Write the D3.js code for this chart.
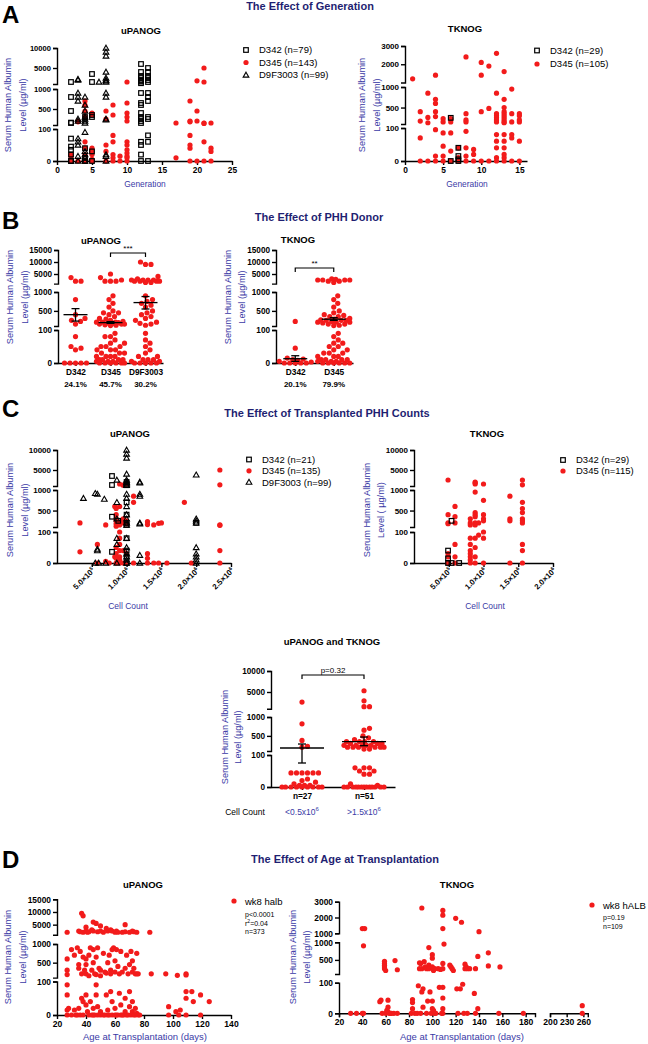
<!DOCTYPE html>
<html>
<head>
<meta charset="utf-8">
<script src="https://cdn.jsdelivr.net/npm/d3@7"></script>
<style>body{margin:0;background:#fff}</style>
</head>
<body>
<script>
'use strict';

// ---------------- data ----------------
const genLegendUp = ['D342 (n=79)', 'D345 (n=143)', 'D9F3003 (n=99)'];
const genLegendTk = ['D342 (n=29)', 'D345 (n=105)'];
const cellLegendUp = ['D342 (n=21)', 'D345 (n=135)', 'D9F3003 (n=99)'];
const cellLegendTk = ['D342 (n=29)', 'D345 (n=115)'];
const genTicksUp = [0, 5, 10, 15, 20, 25];
const genTicksTk = [0, 5, 10, 15];
const cellTicksUp = [5e5, 1e6, 1.5e6, 2e6, 2.5e6];
const cellTicksTk = [5e5, 1e6, 1.5e6, 2e6];
const ageTicksUp = [20, 40, 60, 80, 100, 120, 140];
const ageTicksTkA = [20, 40, 60, 80, 100, 120, 140, 160, 180];
const ageTicksTkB = [200, 230, 260];

// A: generation vs albumin  [generation, ug/ml]
const genUpD342 = [[2,1500],[2,800],[2,450],[2,160],[2,150],[2,70],[2,45],[2,35],[2,20],[2,0],[2,0],
  [4,300],[4,40],[4,10],[4,0],[5,3500],[5,1500],[5,350],[5,300],[5,30],[5,0],
  [12,6000],[12,4000],[12,3000],[12,2500],[12,2000],[12,1800],[12,1600],[12,1200],[12,900],[12,650],[12,600],
  [12,400],[12,300],[12,250],[12,200],[12,150],[12,60],[12,50],[12,20],[12,0],
  [13,5000],[13,4000],[13,3000],[13,2500],[13,2000],[13,1500],[13,900],[13,800],[13,700],[13,300],[13,250],
  [13,80],[13,60],[13,0]];
const genUpD345 = [[2,20],[2,15],[2,0],[3,200],[3,180],[3,0],[4,700],[4,600],[4,450],[4,300],[4,60],[4,40],
  [4,20],[4,0],[5,400],[5,350],[5,40],[5,30],[5,20],[5,5],[5,0],[7,450],[7,250],[7,50],[7,30],[7,0],
  [8,600],[8,350],[8,80],[8,60],[8,20],[8,10],[8,0],[9,15],[9,0],[10,1500],[10,650],[10,400],[10,300],
  [10,200],[10,60],[10,50],[10,35],[10,25],[10,15],[10,10],[10,0],[17,150],[17,10],[19,700],[19,200],
  [19,180],[19,80],[19,50],[19,40],[19,0],[20,1800],[20,450],[20,200],[20,0],[21,5000],[21,1500],[21,150],
  [21,140],[21,60],[21,0],[22,150],[22,40],[22,30],[22,0]];
const genUpD9 = [[3,2000],[3,2200],[3,900],[3,800],[3,700],[3,250],[3,200],[3,70],[3,60],[3,50],[3,15],[3,0],
  [4,800],[4,600],[4,450],[4,300],[4,250],[4,200],[4,150],[4,90],[4,30],[4,20],[4,10],[4,0],[6,1500],
  [7,10000],[7,9000],[7,8000],[7,4000],[7,2500],[7,2000],[7,1800],[7,1500],[7,900],[7,800],[7,250],[7,230],
  [7,20],[7,15],[7,0]];
const genTkD342 = [[6,250],[6,0],[7,40],[7,15],[7,5],[7,0]];
const genTkD345 = [[1,1200],[2,400],[2,170],[2,70],[2,0],[3,850],[3,260],[3,130],[3,0],[4,1400],[4,700],
  [4,600],[4,400],[4,280],[4,95],[4,15],[4,0],[5,230],[5,150],[5,85],[5,45],[5,15],[5,0],[6,230],[6,150],
  [6,85],[6,30],[6,0],[7,40],[7,10],[7,0],[8,2400],[8,350],[8,200],[8,150],[8,90],[8,40],[8,15],[8,0],
  [9,35],[9,20],[9,0],[10,2100],[10,1400],[10,400],[10,0],[11,1900],[11,480],[11,0],[12,2600],[12,850],
  [12,350],[12,300],[12,250],[12,200],[12,150],[12,80],[12,60],[12,40],[12,10],[12,0],[13,1600],[13,700],
  [13,500],[13,400],[13,350],[13,300],[13,250],[13,200],[13,150],[13,130],[13,80],[13,60],[13,40],[13,20],
  [13,10],[13,0],[14,950],[14,350],[14,150],[14,80],[14,70],[14,0],[15,350],[15,300],[15,200],[15,150],
  [15,60],[15,0]];

// B: donor columns
const donorsUp = ['D342', 'D345', 'D9F3003'];
const donorsTk = ['D342', 'D345'];
const donorPctUp = ['24.1%', '45.7%', '30.2%'];
const donorPctTk = ['20.1%', '79.9%'];
const donorUpValues = [
  [3500,2000,2000,800,400,300,250,220,150,80,50,45,40,0,0,0,0,0],
  [5000,3500,2500,2000,2000,2000,900,800,700,600,500,450,450,400,350,300,280,250,220,200,200,200,190,180,
   170,150,150,150,130,120,110,90,80,80,70,60,60,50,50,50,40,40,40,30,30,30,20,20,20,20,10,10,10,10,5,5,5,
   0,0,0,0,0,0],
  [10000,9000,9000,4000,3000,2500,2500,2500,2500,2000,2000,2000,2000,1500,1500,900,800,750,700,650,600,500,
   450,400,350,300,250,200,170,150,120,90,70,60,50,40,30,20,20,10,10,10,5,5,0,0,0,0,0]];
const donorUpMean = [400, 190, 720];
const donorUpLo = [230, 170, 550];
const donorUpHi = [560, 215, 880];
const donorTkValues = [
  [220,45,15,12,10,8,5,3,0,0,0,0,0],
  [3000,2800,2500,2500,2500,2500,2000,2000,1500,900,800,700,600,500,450,400,380,350,350,300,280,260,250,
   250,250,220,200,200,200,180,150,150,120,110,90,80,70,60,60,50,50,40,40,30,30,30,20,20,20,10,10,10,10,
   5,5,5,0,0,0,0,0,0]];
const donorTkMean = [13, 280];
const donorTkLo = [5, 250];
const donorTkHi = [22, 320];

// C: transplanted cell count  [cells, ug/ml]
const cellUpD342 = [[7.9e5,3500],[7.9e5,1250],[7.9e5,350],[7.9e5,36],[8.8e5,250],[1e6,2000],[1e6,1200],
  [1e6,700],[1e6,400],[1e6,200],[1e6,150],[1e6,80],[1e6,40],[1e6,20],[1e6,0],[2e6,200]];
const cellUpD345 = [[3.3e5,200],[3.3e5,36],[5.8e5,60],[5.8e5,0],[7e5,150],[7e5,5],[7.5e5,0],[8.3e5,600],
  [8.3e5,20],[8.5e5,550],[8.5e5,400],[8.5e5,300],[8.5e5,250],[8.5e5,180],[8.5e5,120],[8.5e5,50],[8.5e5,30],
  [8.5e5,15],[8.5e5,0],[9e5,1500],[9e5,600],[9e5,200],[9e5,150],[9e5,100],[9e5,80],[9e5,60],[9e5,40],
  [9e5,20],[9e5,10],[9e5,0],[9.5e5,1200],[9.5e5,300],[9.5e5,250],[9.5e5,200],[9.5e5,40],[9.5e5,0],
  [1e6,1500],[1e6,250],[1e6,180],[1e6,30],[1e6,0],[1.1e6,850],[1.1e6,700],[1.1e6,0],[1.3e6,230],[1.3e6,160],
  [1.3e6,30],[1.3e6,15],[1.3e6,0],[1.39e6,150],[1.39e6,0],[1.46e6,190],[1.46e6,0],[1.5e6,200],[1.58e6,0],
  [1.83e6,700],[1.93e6,0],[2.34e6,5000],[2.34e6,1300],[2.34e6,150],[2.34e6,140],[2.34e6,40],[2.34e6,0]];
const cellUpD9 = [[3.8e5,800],[5.5e5,920],[5.8e5,900],[6.8e5,780],[8.6e5,700],[8.6e5,2500],[8.6e5,300],
  [8.6e5,80],[8.6e5,60],[8.6e5,0],[1e6,10000],[1e6,9000],[1e6,8000],[1e6,4000],[1e6,2500],[1e6,2000],
  [1e6,1800],[1e6,1500],[1e6,1200],[1e6,900],[1e6,800],[1e6,600],[1e6,400],[1e6,300],[1e6,200],[1e6,150],
  [1e6,80],[1e6,50],[1e6,30],[1e6,20],[1e6,10],[1e6,0],[5.8e5,40],[5.8e5,45],[5.5e5,0],[6e5,0],[7e5,0],
  [1.19e6,2000],[1.19e6,1800],[1.19e6,900],[1.19e6,850],[1.19e6,200],[1.19e6,180],[1.19e6,25],[1.19e6,0],
  [2e6,3800],[2e6,300],[2e6,250],[2e6,200],[2e6,50],[2e6,30],[2e6,20],[2e6,10],[2e6,0]];
const cellTkD342 = [[4.9e5,40],[4.9e5,15],[4.9e5,0],[5.4e5,250],[5.4e5,0],[6.5e5,0]];
const cellTkD345 = [[4.9e5,2500],[4.9e5,400],[4.9e5,200],[4.9e5,180],[4.9e5,30],[4.9e5,20],[4.9e5,0],
  [5.9e5,600],[5.9e5,350],[5.9e5,200],[5.9e5,60],[5.9e5,20],[5.9e5,0],[8.1e5,300],[8.1e5,200],[8.1e5,150],
  [8.1e5,80],[8.1e5,60],[8.1e5,40],[8.1e5,30],[8.1e5,20],[8.1e5,10],[8.1e5,0],[8.8e5,2000],[8.8e5,1800],
  [8.8e5,1500],[8.8e5,950],[8.8e5,450],[8.8e5,400],[8.8e5,350],[8.8e5,200],[8.8e5,150],[8.8e5,80],
  [8.8e5,50],[8.8e5,20],[8.8e5,0],[9.3e5,200],[9.3e5,90],[1e6,1500],[1e6,750],[1e6,400],[1e6,300],
  [1e6,250],[1e6,100],[1e6,80],[1e6,0],[1.38e6,850],[1.38e6,300],[1.38e6,250],[1.38e6,0],[1.56e6,2500],
  [1.56e6,1300],[1.56e6,700],[1.56e6,550],[1.56e6,450],[1.56e6,300],[1.56e6,250],[1.56e6,200],[1.56e6,60],
  [1.56e6,40],[1.56e6,0]];

// C lower: pooled by cell count
const poolCats = ['n=27', 'n=51'];
const poolCountLabels = ['<0.5x10', '>1.5x10'];
const poolValues = [
  [2600,820,380,220,200,44,44,44,44,44,44,25,20,15,10,5,5,5,0,0,0,0,0,0,0,0,0],
  [5300,2900,1500,1500,700,650,500,450,400,350,350,350,350,300,300,300,250,250,250,250,250,200,200,200,
   200,200,200,150,150,60,60,60,50,50,40,40,10,5,0,0,0,0,0,0,0,0,0,0,0,0,0]];
const poolMean = [180, 346];
const poolLo = [75, 240];
const poolHi = [285, 470];

// D: age at transplantation  [days, ug/ml]
const ageUp = [[27,2000],[35,2500],[36,2200],[37,9500],[38,8500],[38,2000],[40,4000],[40,2500],[41,2000],
  [42,2200],[44,3000],[45,6000],[45,2500],[47,5500],[48,2200],[50,4500],[50,2500],[52,2000],[54,3500],
  [55,2500],[57,3000],[58,2500],[60,2000],[61,2500],[62,2000],[65,2000],[67,5000],[67,2200],[70,2000],
  [72,2500],[73,2200],[75,2000],[84,2000],
  [27,600],[27,300],[27,180],[30,850],[32,700],[34,900],[35,450],[35,350],[36,800],[37,200],[38,650],
  [39,300],[40,600],[40,450],[40,200],[42,700],[42,150],[43,900],[44,300],[45,850],[45,500],[46,200],
  [47,650],[47,180],[48,900],[49,350],[50,300],[50,150],[52,750],[53,250],[54,220],[55,500],[56,700],
  [57,300],[57,200],[58,850],[59,900],[60,550],[60,250],[61,850],[62,400],[63,200],[64,800],[65,250],
  [67,350],[68,700],[69,200],[70,450],[71,800],[72,550],[72,250],[73,350],[74,200],[75,750],[75,200],
  [76,200],[85,200],[95,200],[103,160],[109,200],[109,170],
  [27,90],[27,60],[27,15],[27,0],[28,20],[30,0],[32,15],[33,0],[34,0],[35,20],[36,0],[37,50],[38,40],
  [38,0],[40,60],[40,30],[41,10],[42,0],[43,40],[44,0],[45,20],[45,0],[46,0],[47,90],[47,60],[48,25],
  [48,0],[50,10],[50,0],[52,0],[53,0],[54,60],[55,15],[55,0],[56,0],[57,70],[58,40],[58,0],[60,20],
  [60,0],[61,0],[62,0],[63,65],[64,30],[64,0],[65,0],[66,0],[67,50],[67,10],[68,0],[69,0],[70,70],
  [70,25],[71,0],[72,40],[72,10],[73,0],[74,20],[74,0],[75,5],[76,0],[77,0],[97,25],[97,0],[102,10],
  [104,0],[105,15],[109,70],[109,50],[109,0],[113,70],[114,40],[119,60],[119,0],[125,40]];
const ageTk = [[30,0],[35,0],[40,0],[41,0],[40,1300],[42,1300],[41,900],[55,38],[56,43],[57,0],[59,460],
  [59,400],[59,350],[59,300],[59,250],[60,200],[60,0],[61,10],[62,43],[62,20],[62,5],[63,0],[64,0],[65,0],
  [67,0],[68,480],[70,220],[70,0],[82,0],[83,15],[83,35],[83,45],[85,0],[87,0],[88,90],[89,420],[89,250],
  [90,400],[90,0],[91,2600],[91,250],[91,70],[92,80],[92,20],[93,450],[94,300],[95,250],[95,0],[96,40],
  [97,850],[97,350],[97,250],[98,70],[99,0],[100,650],[100,550],[100,300],[100,40],[100,15],[101,250],
  [101,200],[101,10],[102,250],[102,0],[103,0],[105,250],[106,85],[107,230],[108,0],[109,2450],[109,2150],
  [109,1300],[109,400],[109,250],[109,85],[109,50],[109,15],[109,0],[110,950],[115,350],[116,300],
  [117,250],[118,200],[120,1950],[121,80],[122,0],[124,80],[125,1700],[126,95],[127,0],[128,380],[128,250],
  [129,300],[130,250],[130,0],[132,250],[136,65],[137,250],[137,0],[139,15],[139,600],[140,1100],
  [148,700],[148,330],[157,0],[158,300],[178,0],[258,25],[258,0]];

// ---------------- drawing ----------------
const FONT = "'Liberation Sans', Arial, Helvetica, sans-serif";
const RED = '#f21b1b';
const NAVY = '#1f1f72';
const BLUE = '#3a3aa6';

const svg = d3.select('body').append('svg')
  .attr('width', 648).attr('height', 1044)
  .style('font-family', FONT);

function txt(x, y, s, o = {}) {
  return svg.append('text').attr('x', x).attr('y', y).text(s)
    .attr('font-size', o.size || 9)
    .attr('font-weight', o.bold ? 'bold' : 'normal')
    .attr('fill', o.color || '#000')
    .attr('text-anchor', o.anchor || 'middle');
}

// piecewise (broken) y scale, one d3 linear scale per segment
function segY(segs) {
  segs.forEach(s => { s.sc = d3.scaleLinear().domain(s.d).range(s.r); });
  return v => (segs.find(s => v <= s.d[1]) || segs[segs.length - 1]).sc(v);
}

function styleAxis(g, fs) {
  g.selectAll('path,line').attr('stroke', '#000').attr('stroke-width', 1.4);
  g.selectAll('text').attr('font-size', fs).attr('font-weight', 'bold')
    .attr('font-family', FONT).attr('fill', '#000');
}

function yAxis(x, segs, fs) {
  segs.forEach(s => {
    const g = svg.append('g').attr('transform', `translate(${x},0)`)
      .call(d3.axisLeft(s.sc).tickValues(s.t).tickSize(4).tickSizeOuter(4)
        .tickPadding(2).tickFormat(d3.format('d')));
    styleAxis(g, fs);
  });
}

function yLabel(x1, x2, cy, second) {
  [[x1, 'Serum Human Albumin'], [x2, second || 'Level (µg/ml)']].forEach(([x, s]) => {
    svg.append('text').attr('transform', `translate(${x + 3.3},${cy}) rotate(-90)`)
      .attr('text-anchor', 'middle').attr('font-size', 9.2).attr('fill', BLUE).text(s);
  });
}

function sym(x, y, kind) {
  if (kind === 'circle') {
    svg.append('circle').attr('cx', x).attr('cy', y).attr('r', 2.6).attr('fill', RED);
  } else if (kind === 'square') {
    svg.append('rect').attr('x', x - 2.3).attr('y', y - 2.3).attr('width', 4.6).attr('height', 4.6)
      .attr('fill', 'none').attr('stroke', '#000').attr('stroke-width', 1.2);
  } else {
    svg.append('path').attr('d', d3.symbol(d3.symbolTriangle, 14)())
      .attr('transform', `translate(${x},${y + 0.5})`)
      .attr('fill', 'none').attr('stroke', '#000').attr('stroke-width', 1.1);
  }
}

function legend(x, y0, dy, labels, kinds, fs) {
  labels.forEach((l, i) => {
    sym(x, y0 + i * dy, kinds[i]);
    txt(x + 13, y0 + i * dy + 3.4, l, { size: fs || 9.5, anchor: 'start' });
  });
}

// beeswarm placement for column scatter
function swarm(vals, cx, ys, r, maxW) {
  const pts = vals.map(v => ({ v, y: ys(v) })).sort((a, b) => b.y - a.y);
  const placed = [];
  pts.forEach(p => {
    let best = null, bestD = -1;
    for (let k = 0; k <= maxW * 4; k++) {
      const off = (k % 2 ? 1 : -1) * Math.ceil(k / 2) * 0.5;
      let dmin = Infinity;
      placed.forEach(q => { dmin = Math.min(dmin, Math.hypot(q.x - cx - off, q.y - p.y)); });
      if (dmin >= 2 * r + 0.2) { best = off; break; }
      if (dmin > bestD) { bestD = dmin; best = off; }
    }
    p.x = cx + best;
    placed.push(p);
  });
  return placed;
}

function scatterPanel(o) {
  const ys = segY(o.segs);
  yAxis(o.x0, o.segs, o.fs);
  (o.xAxes || [{ sc: o.xs, ticks: o.xTicks }]).forEach(a => {
    const g = svg.append('g').attr('transform', `translate(0,${o.segs[0].r[0]})`)
      .call(d3.axisBottom(a.sc).tickValues(a.ticks).tickSize(4)
        .tickSizeOuter(o.xAxes ? 4 : 0).tickPadding(2).tickFormat(d3.format('d')));
    styleAxis(g, o.xfs || 8.4);
    if (o.cells) {
      g.selectAll('.tick text').each(function (d) {
        const e = Math.floor(Math.log10(d)), m = d / Math.pow(10, e);
        const t = d3.select(this).text(null).attr('text-anchor', 'end').attr('x', 0).attr('y', 0)
          .attr('dy', null).attr('font-size', 7.8).attr('transform', 'translate(3,8) rotate(-45)');
        t.append('tspan').text(m.toFixed(1) + '×10');
        t.append('tspan').attr('font-size', 5).attr('dy', -3).text(e);
      });
    }
  });
  o.series.forEach(s => s.data.forEach(([a, b]) => sym(o.xf(a), ys(b), s.kind)));
}

function columnPanel(o) {
  const ys = segY(o.segs);
  const xs = d3.scalePoint().domain(o.cats).range(o.xr).padding(0.5);
  yAxis(o.x0, o.segs, o.fs);
  const g = svg.append('g').attr('transform', `translate(0,${o.segs[0].r[0]})`)
    .call(d3.axisBottom(xs).tickSize(3).tickSizeOuter(0).tickPadding(3));
  styleAxis(g, 8.3);
  o.values.forEach((vals, i) => {
    swarm(vals, xs(o.cats[i]), ys, 2.6, o.maxW).forEach(p => sym(p.x, p.y, 'circle'));
  });
  o.cats.forEach((c, i) => {
    const cx = xs(c);
    const line = (x1, y1, x2, y2) => svg.append('line').attr('x1', x1).attr('y1', y1)
      .attr('x2', x2).attr('y2', y2).attr('stroke', '#000').attr('stroke-width', 1.3);
    line(cx - o.halfW, ys(o.mean[i]), cx + o.halfW, ys(o.mean[i]));
    line(cx, ys(o.lo[i]), cx, ys(o.hi[i]));
    line(cx - 4, ys(o.lo[i]), cx + 4, ys(o.lo[i]));
    line(cx - 4, ys(o.hi[i]), cx + 4, ys(o.hi[i]));
  });
  if (o.bracket) {
    const [a, b, y, label, bold] = o.bracket;
    const x1 = xs(o.cats[a]), x2 = xs(o.cats[b]);
    svg.append('path').attr('d', `M${x1},${y + 4}V${y}H${x2}V${y + 4}`)
      .attr('fill', 'none').attr('stroke', '#000').attr('stroke-width', 1.2);
    txt((x1 + x2) / 2, y - 2.5, label, { size: 8, bold });
  }
  return xs;
}

// ---- headings ----
[['A', 23], ['B', 229], ['C', 417], ['D', 868]].forEach(([l, y]) =>
  txt(2, y, l, { size: 24, bold: true, anchor: 'start' }));
txt(310, 10, 'The Effect of Generation', { size: 11, bold: true, color: NAVY });
txt(319, 221, 'The Effect of PHH Donor', { size: 11, bold: true, color: NAVY });
txt(327, 417, 'The Effect of Transplanted PHH Counts', { size: 11, bold: true, color: NAVY });
txt(345, 863, 'The Effect of Age at Transplantation', { size: 11, bold: true, color: NAVY });

// ---- A left ----
txt(141, 34, 'uPANOG', { size: 9.5, bold: true });
{
  const xs = d3.scaleLinear().domain([0, 25]).range([57, 232]);
  scatterPanel({
    x0: 57, fs: 7.6, xs, xf: xs, xTicks: genTicksUp,
    segs: [{ d: [0, 100], r: [161, 129], t: [0, 100] },
           { d: [100, 1000], r: [125, 89], t: [500, 1000] },
           { d: [1000, 10000], r: [84, 48], t: [5000, 10000] }],
    series: [{ data: genUpD345, kind: 'circle' }, { data: genUpD342, kind: 'square' },
             { data: genUpD9, kind: 'tri' }]
  });
}
yLabel(8, 23, 105);
txt(145, 187, 'Generation', { size: 8.4, color: BLUE });
legend(246, 50, 12.5, genLegendUp, ['square', 'circle', 'tri']);

// ---- A right ----
txt(465, 32, 'TKNOG', { size: 9.5, bold: true });
{
  const xs = d3.scaleLinear().domain([0, 16]).range([405, 527]);
  scatterPanel({
    x0: 405, fs: 8, xs, xf: xs, xTicks: genTicksTk,
    segs: [{ d: [0, 100], r: [161, 128], t: [0, 100] },
           { d: [100, 1000], r: [124, 87], t: [500, 1000] },
           { d: [1000, 3000], r: [82.5, 46], t: [2000, 3000] }],
    series: [{ data: genTkD345, kind: 'circle' }, { data: genTkD342, kind: 'square' }]
  });
}
yLabel(362, 377, 105);
txt(467, 187, 'Generation', { size: 8.4, color: BLUE });
legend(537, 50.5, 13.5, genLegendTk, ['square', 'circle']);

// ---- B ----
const segsB = () => [{ d: [0, 100], r: [363, 330], t: [0, 100] },
                     { d: [100, 1000], r: [326, 292], t: [500, 1000] },
                     { d: [1000, 15000], r: [283.6, 250], t: [5000, 10000, 15000] }];
txt(101, 244, 'uPANOG', { size: 9.5, bold: true });
{
  const xs = columnPanel({
    x0: 58, fs: 8.2, segs: segsB(), cats: donorsUp, xr: [58, 163], values: donorUpValues,
    mean: donorUpMean, lo: donorUpLo, hi: donorUpHi, halfW: 12, maxW: 14,
    bracket: [1, 2, 253, '***', false]
  });
  donorsUp.forEach((c, i) => txt(xs(c), 387, donorPctUp[i], { size: 8, bold: true }));
}
yLabel(10, 25, 297);
txt(298, 243, 'TKNOG', { size: 9.5, bold: true });
{
  const xs = columnPanel({
    x0: 276, fs: 8.2, segs: segsB(), cats: donorsTk, xr: [276, 353], values: donorTkValues,
    mean: donorTkMean, lo: donorTkLo, hi: donorTkHi, halfW: 12, maxW: 16,
    bracket: [0, 1, 268, '**', false]
  });
  donorsTk.forEach((c, i) => txt(xs(c), 387, donorPctTk[i], { size: 8, bold: true }));
}
yLabel(228, 242, 297);

// ---- C left / right ----
const segsC = () => [{ d: [0, 100], r: [563, 532], t: [0, 100] },
                     { d: [100, 1000], r: [527, 490], t: [500, 1000] },
                     { d: [1000, 10000], r: [486, 450], t: [5000, 10000] }];
txt(130, 437, 'uPANOG', { size: 9.5, bold: true });
{
  const xs = d3.scaleLinear().domain([0, 2.5e6]).range([57, 231]);
  scatterPanel({
    x0: 57, fs: 8, xs, xf: xs, xTicks: cellTicksUp, cells: true, segs: segsC(),
    series: [{ data: cellUpD345, kind: 'circle' }, { data: cellUpD342, kind: 'square' },
             { data: cellUpD9, kind: 'tri' }]
  });
}
yLabel(10, 25, 510);
txt(128, 609, 'Cell Count', { size: 8.5, color: BLUE });
legend(249, 459.5, 11.3, cellLegendUp, ['square', 'circle', 'tri']);

txt(487, 437, 'TKNOG', { size: 9.5, bold: true });
{
  const xs = d3.scaleLinear().domain([0, 2e6]).range([414, 553]);
  scatterPanel({
    x0: 414, fs: 8, xs, xf: xs, xTicks: cellTicksTk, cells: true, segs: segsC(),
    series: [{ data: cellTkD345, kind: 'circle' }, { data: cellTkD342, kind: 'square' }]
  });
}
yLabel(367, 381, 510, 'Level ( µg/ml)');
txt(485, 609, 'Cell Count', { size: 8.5, color: BLUE });
legend(563, 460, 11, cellLegendTk, ['square', 'circle']);

// ---- C lower ----
txt(332, 645, 'uPANOG and TKNOG', { size: 9.5, bold: true });
{
  const xs = columnPanel({
    x0: 271, fs: 8.2,
    segs: [{ d: [0, 100], r: [787, 755], t: [0, 100] },
           { d: [100, 1000], r: [751, 717], t: [500, 1000] },
           { d: [1000, 10000], r: [708.8, 671], t: [5000, 10000] }],
    cats: poolCats, xr: [271, 395], values: poolValues,
    mean: poolMean, lo: poolLo, hi: poolHi, halfW: 22, maxW: 20,
    bracket: [0, 1, 675, 'p=0.32', false]
  });
  txt(245, 815, 'Cell Count', { size: 8.5 });
  poolCats.forEach((c, i) => {
    const t = txt(xs(c), 815, poolCountLabels[i], { size: 8.5, color: BLUE });
    t.append('tspan').attr('font-size', 6).attr('dy', -4).text('6');
  });
}
yLabel(225, 238, 737);

// ---- D left ----
txt(143, 888, 'uPANOG', { size: 9.5, bold: true });
{
  const xs = d3.scaleLinear().domain([20, 140]).range([57, 231]);
  scatterPanel({
    x0: 57, fs: 8.4, xfs: 8.6, xs, xf: xs, xTicks: ageTicksUp,
    segs: [{ d: [0, 100], r: [1015, 981.5], t: [0, 100] },
           { d: [100, 1000], r: [977.6, 944], t: [500, 1000] },
           { d: [1000, 15000], r: [934.8, 899.3], t: [5000, 10000, 15000] }],
    series: [{ data: ageUp, kind: 'circle' }]
  });
}
yLabel(8, 23, 957);
txt(145, 1040, 'Age at Transplantation (days)', { size: 9.5, color: BLUE });
sym(234, 901, 'circle');
txt(245, 904.5, 'wk8 halb', { size: 9.5, anchor: 'start' });
txt(245, 917, 'p<0.0001', { size: 7, anchor: 'start' });
{
  const t = txt(245, 925.5, 'r', { size: 7, anchor: 'start' });
  t.append('tspan').attr('font-size', 5).attr('dy', -2.5).text('2');
  t.append('tspan').attr('dy', 2.5).text('=0.04');
}
txt(245, 934, 'n=373', { size: 7, anchor: 'start' });

// ---- D right ----
txt(457, 888, 'TKNOG', { size: 9.5, bold: true });
{
  const sx1 = d3.scaleLinear().domain([20, 188]).range([339, 535]);
  const sx2 = d3.scaleLinear().domain([200, 268]).range([550, 587.8]);
  scatterPanel({
    x0: 339, fs: 8.4, xfs: 8.6, xf: v => (v <= 190 ? sx1(v) : sx2(v)),
    xAxes: [{ sc: sx1, ticks: ageTicksTkA }, { sc: sx2, ticks: ageTicksTkB }],
    segs: [{ d: [0, 100], r: [1013.3, 982.7], t: [0, 100] },
           { d: [100, 1000], r: [974, 942.3], t: [500, 1000] },
           { d: [1000, 3000], r: [933.3, 901.7], t: [1000, 2000, 3000] }],
    series: [{ data: ageTk, kind: 'circle' }]
  });
}
yLabel(293, 307, 957);
txt(462, 1040, 'Age at Transplantation (days)', { size: 9.5, color: BLUE });
sym(592, 905, 'circle');
txt(603, 908.5, 'wk8 hALB', { size: 9.5, anchor: 'start' });
txt(603, 920, 'p=0.19', { size: 7, anchor: 'start' });
txt(603, 929, 'n=109', { size: 7, anchor: 'start' });
</script>
</body>
</html>
